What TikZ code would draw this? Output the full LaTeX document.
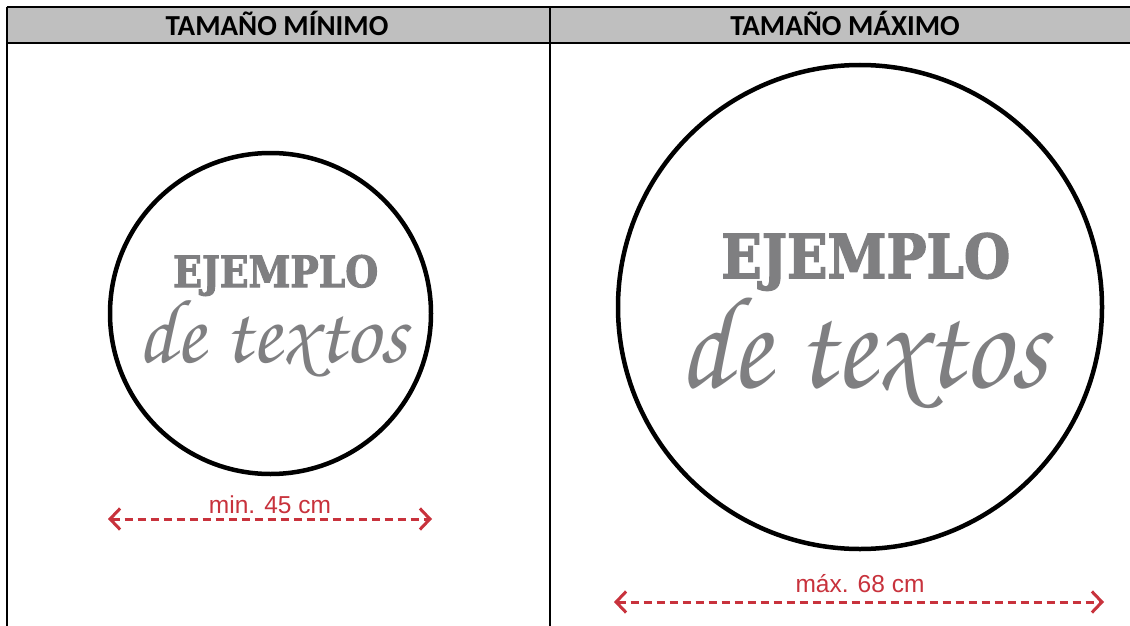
\documentclass[tikz,border=0pt]{standalone}
\usepackage{fontspec}
\setmainfont{Carlito}
\newfontfamily\slabfont{DejaVu Serif}[BoldFeatures={FakeBold=2.5}]
\newfontfamily\arialfont{Liberation Sans}
\newcommand\scriptfnt{\fontencoding{T1}\fontfamily{pzc}\fontseries{mb}\fontshape{it}\selectfont}
\usetikzlibrary{arrows.meta}
\definecolor{hdrgray}{HTML}{BFBFBF}
\definecolor{txtgray}{HTML}{7F7F81}
\definecolor{dimred}{HTML}{C8323C}
\tikzset{
  tableline/.style={draw=black, line width=2pt},
  hdr/.style={font=\fontsize{29}{31}\selectfont\bfseries, anchor=base, inner sep=0pt},
  ring/.style={circle, draw=black, line width=4.5pt, inner sep=0pt},
  big/.style={text=txtgray, inner sep=0pt, anchor=base west},
  dimlabel/.style={text=dimred, font=\arialfont\fontsize{24.5}{26}\selectfont, anchor=base, inner sep=0pt},
  dimline/.style={draw=dimred, line width=3pt, dash pattern=on 8pt off 5pt,
    >={Straight Barb[length=10pt,width=21pt]}, <->}
}
\begin{document}
\begin{tikzpicture}[x=1pt,y=-1pt]
\useasboundingbox (0,0) rectangle (1130,626);
\fill[white] (0,0) rectangle (1130,626);
% table
\coordinate (tl) at (6.5,7);
\coordinate (tr) at (1130,7);
\coordinate (hl) at (6.5,43.5);
\coordinate (hr) at (1130,43.5);
\coordinate (bl) at (6.5,626);
\coordinate (dt) at (550,7);
\coordinate (db) at (550,626);
\fill[hdrgray] (tl) rectangle (hr);
\draw[tableline] (tl) -- (tr);
\draw[tableline] (hl) -- (hr);
\draw[tableline] (tl) -- (bl);
\draw[tableline] (dt) -- (db);
\node[hdr] (h1) at (277,35.5) {TAMAÑO MÍNIMO};
\node[hdr] (h2) at (845,35.5) {TAMAÑO MÁXIMO};
% left circle
\node[ring, minimum size=321pt] (c1) at (270.5,313.5) {};
\node[big] (e1) at (173,287) {\resizebox{205pt}{32pt}{\slabfont\bfseries EJEMPLO}};
\node[big] (s1) at (137,362) {\resizebox{270pt}{65pt}{\scriptfnt de textos}};
% right circle
\node[ring, minimum size=484pt] (c2) at (860,307) {};
\node[big] (e2) at (721,278) {\resizebox{289pt}{45pt}{\slabfont\bfseries EJEMPLO}};
\node[big] (s2) at (678,387) {\resizebox{369pt}{94pt}{\scriptfnt de textos}};
% dimensions
\node[dimlabel] (m1) at (270,513) {min. 45 cm};
\node[dimlabel] (m2) at (860,592) {máx. 68 cm};
\coordinate (a1l) at (108,519);
\coordinate (a1r) at (432,519);
\coordinate (a2l) at (614,602);
\coordinate (a2r) at (1104,602);
\draw[dimline] (a1l) -- (a1r);
\draw[dimline] (a2l) -- (a2r);
\end{tikzpicture}
\end{document}
